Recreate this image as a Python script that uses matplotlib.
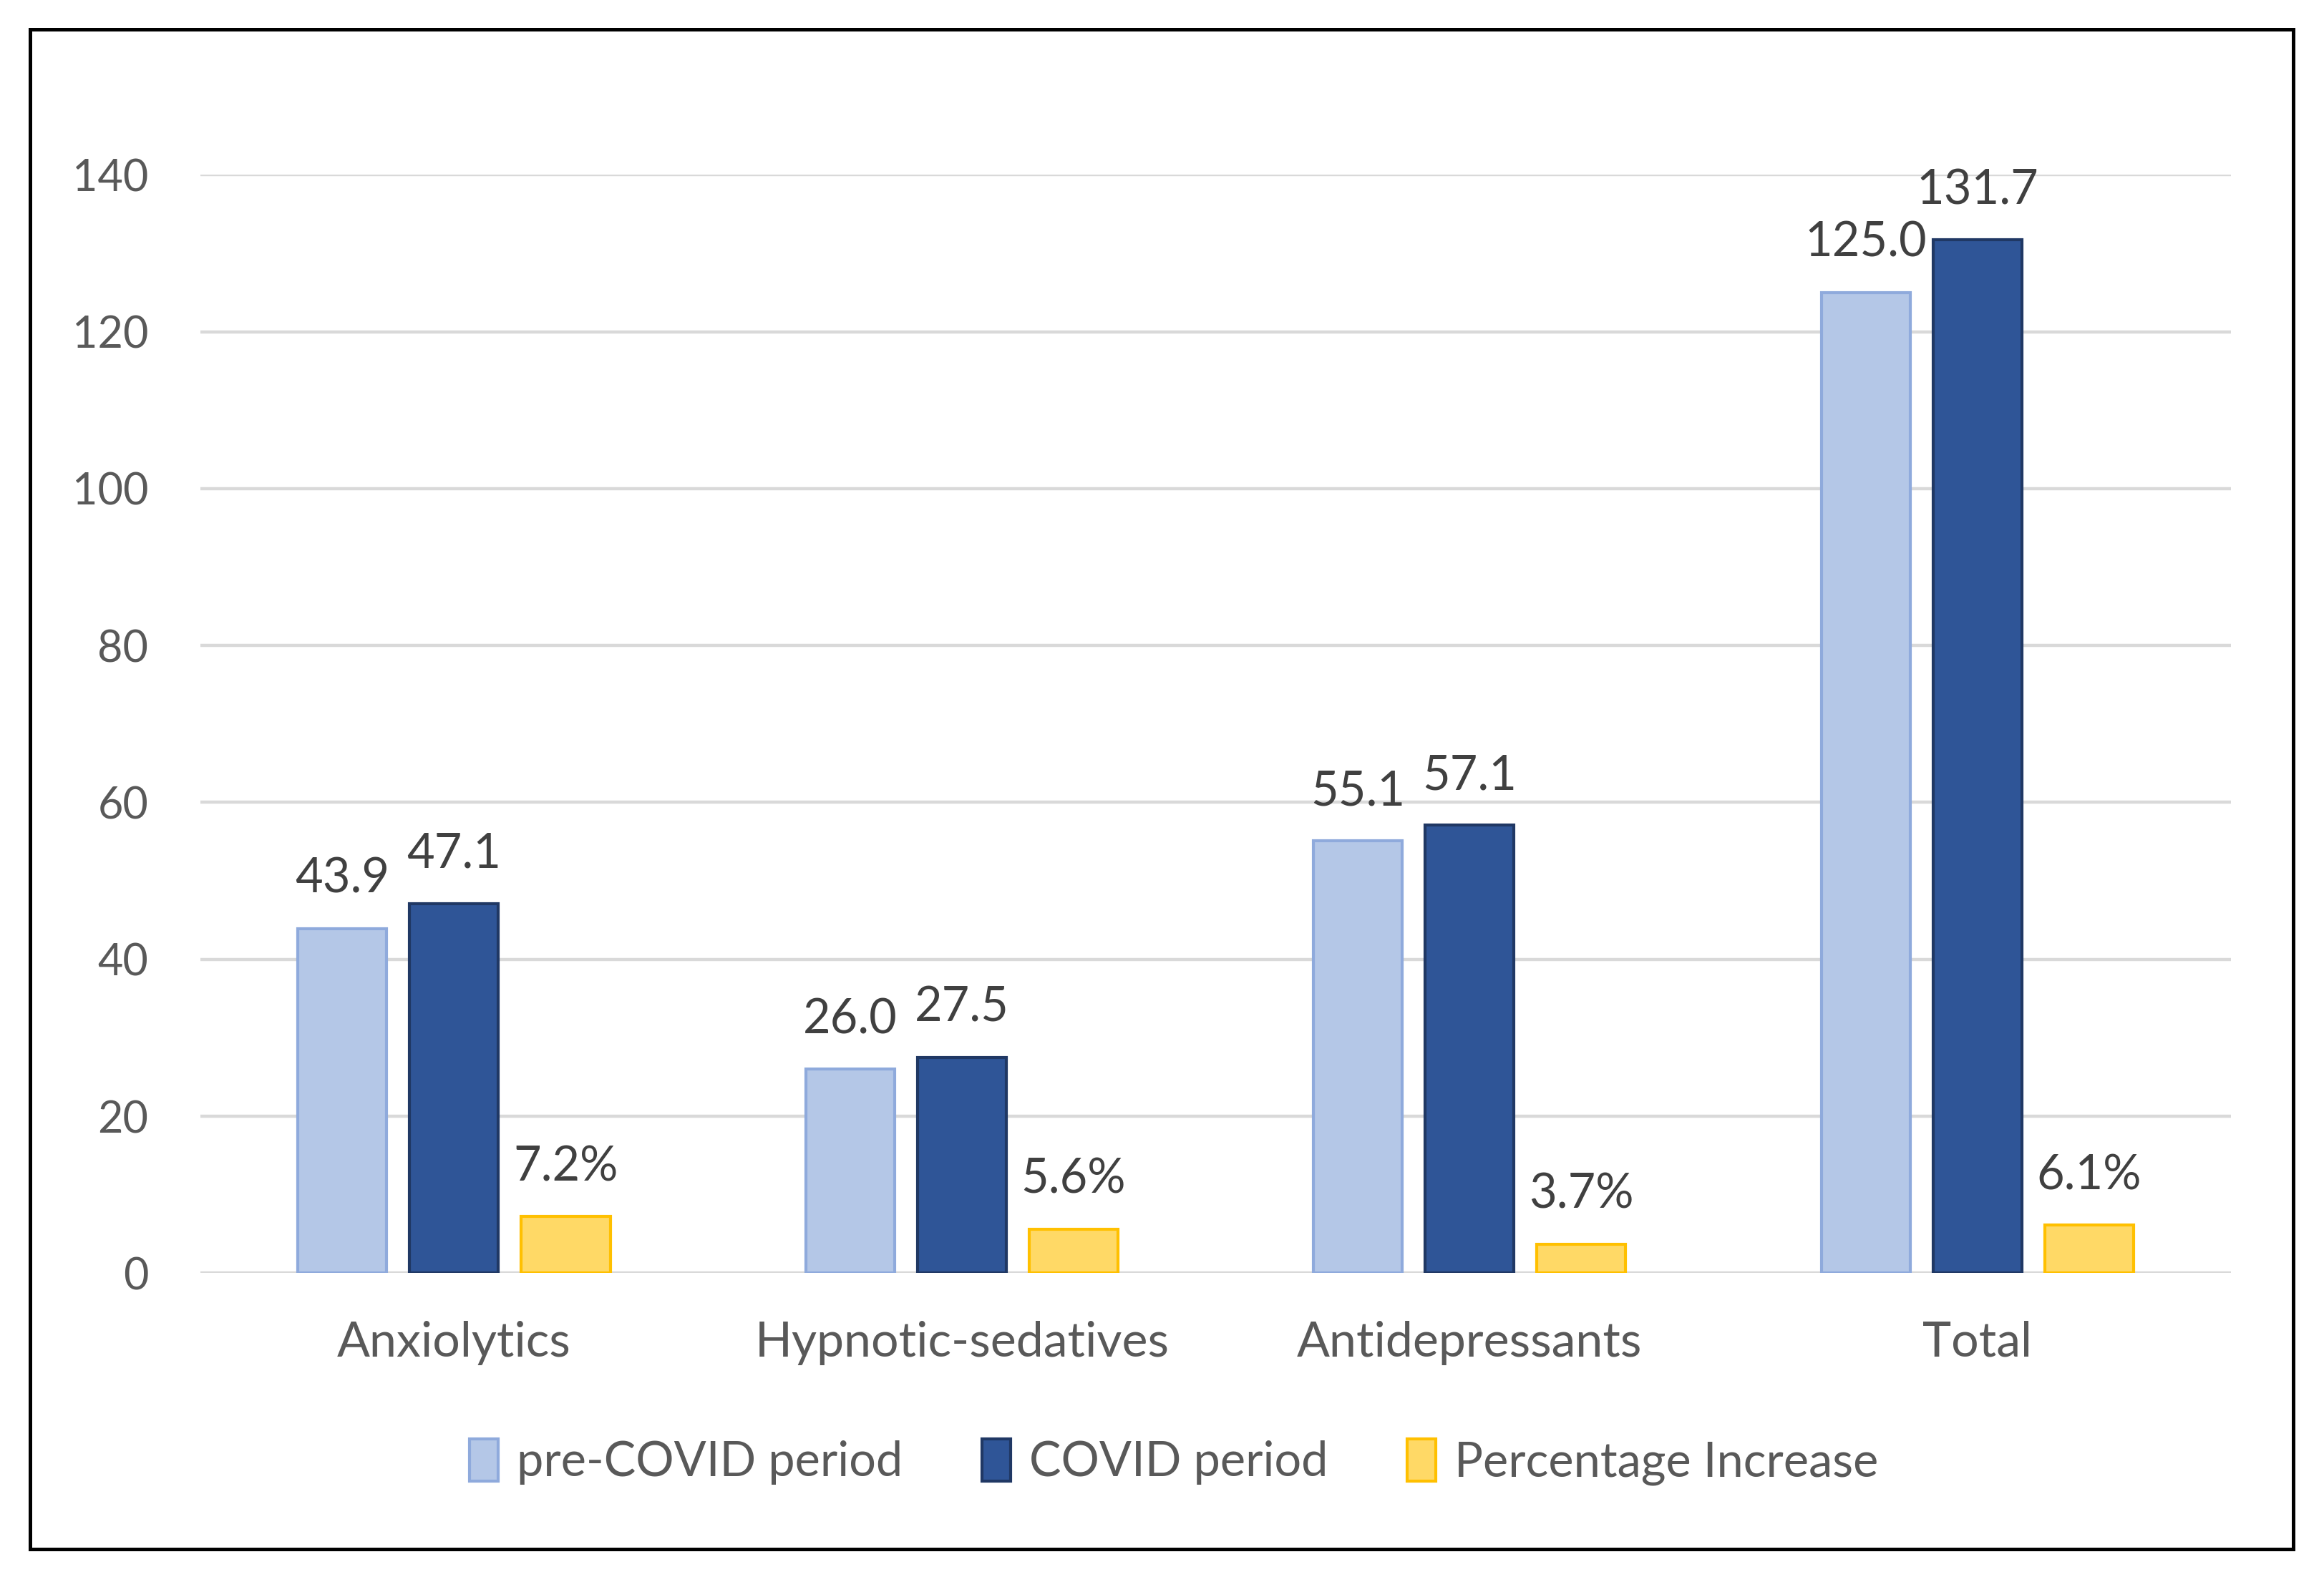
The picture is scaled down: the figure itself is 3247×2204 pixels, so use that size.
import numpy as np
import matplotlib.pyplot as plt
from matplotlib.patches import Rectangle

# data
categories = ['Anxiolytics', 'Hypnotic-sedatives', 'Antidepressants', 'Total']
pre_covid = [43.9, 26.0, 55.1, 125.0]
covid = [47.1, 27.5, 57.1, 131.7]
pct_increase = [7.2, 5.6, 3.7, 6.1]
series_names = ['pre-COVID period', 'COVID period', 'Percentage Increase']

plt.rcParams['font.family'] = ['Lato', 'DejaVu Sans']

fig = plt.figure(figsize=(16.24, 11.02), dpi=200)
ax = fig.add_axes([0.0861, 0.1927, 0.8737, 0.6964])

x = np.arange(len(categories))
w = 0.175
step = 0.22

b1 = ax.bar(x - step, pre_covid, w, color='#B4C7E7', edgecolor='#8FAADC', linewidth=1.5, zorder=3)
b2 = ax.bar(x, covid, w, color='#2F5597', edgecolor='#203864', linewidth=1.5, zorder=3)
b3 = ax.bar(x + step, pct_increase, w, color='#FFD966', edgecolor='#FFC000', linewidth=1.5, zorder=3)

label_kw = dict(textcoords='offset points', ha='center', va='baseline',
                fontsize=24, color='#404040')
for xi, v in zip(x - step, pre_covid):
    ax.annotate(f'{v:.1f}', (xi, v), xytext=(0, 18), **label_kw)
for xi, v in zip(x, covid):
    ax.annotate(f'{v:.1f}', (xi, v), xytext=(0, 18), **label_kw)
for xi, v in zip(x + step, pct_increase):
    ax.annotate(f'{v:.1f}%', (xi, v), xytext=(0, 18), **label_kw)

ax.set_xlim(-0.5, 3.5)
ax.set_ylim(0, 140)
ax.set_yticks(np.arange(0, 141, 20))
ax.set_xticks(x)
ax.set_xticklabels(categories)
ax.tick_params(axis='y', length=0, pad=26, labelsize=22, labelcolor='#595959')
ax.tick_params(axis='x', length=0, pad=24, labelsize=24.5, labelcolor='#595959')
ax.grid(axis='y', color='#D9D9D9', linewidth=1.6, zorder=0)
ax.set_axisbelow(True)
for s in ax.spines.values():
    s.set_visible(False)

fig.legend([b1, b2, b3], series_names, loc='center', bbox_to_anchor=(0.505, 0.073),
           ncol=3, frameon=False, fontsize=24, labelcolor='#595959',
           handlelength=0.6, handleheight=1.0, handletextpad=0.4, columnspacing=1.65)

# outer chart border
fig.patches.append(Rectangle((0.0128, 0.0179), 0.9738, 0.9633, transform=fig.transFigure,
                             fill=False, edgecolor='black', linewidth=1.8))

fig.savefig('out.png', dpi=200)
